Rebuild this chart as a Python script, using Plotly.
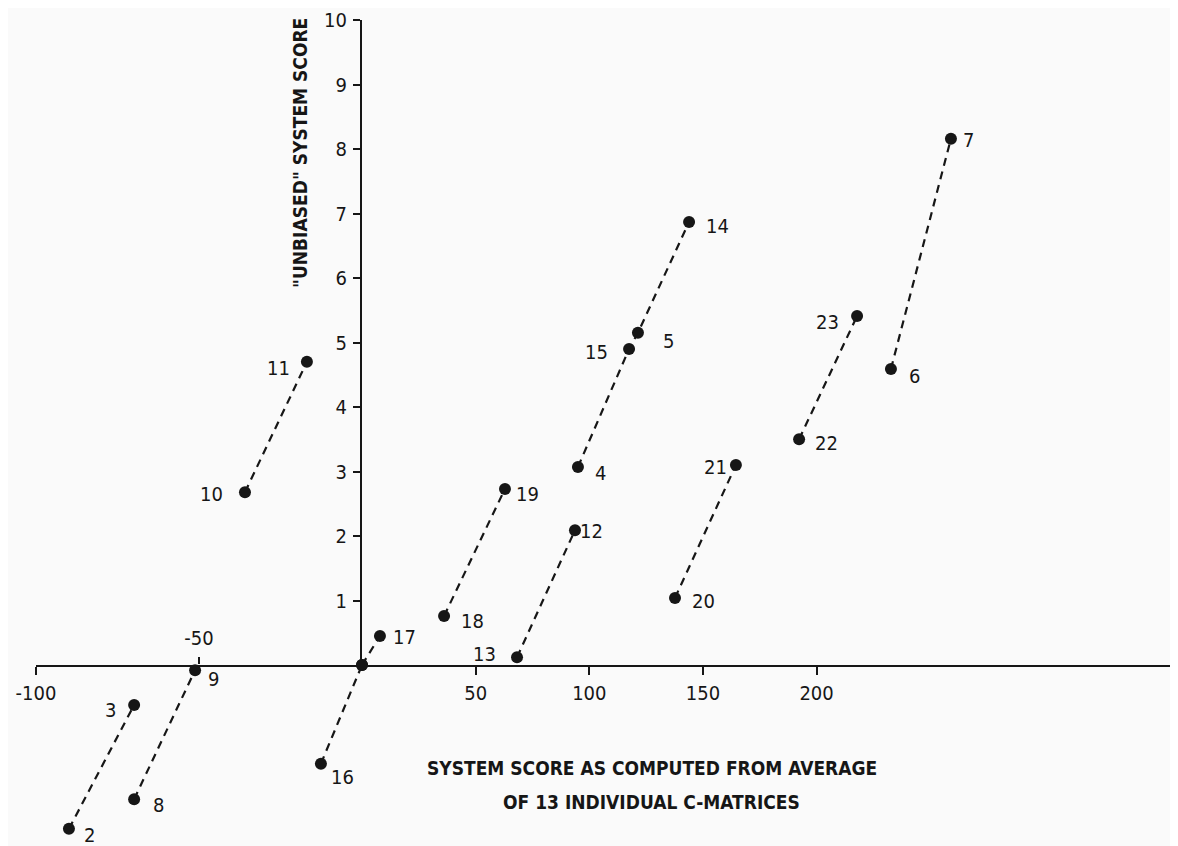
import plotly.graph_objects as go

# ---------------- data ----------------
point_ids = [1, 2, 3, 4, 5, 6, 7, 8, 9, 10, 11, 12,
             13, 14, 15, 16, 17, 18, 19, 20, 21, 22, 23]
x_vals = [0.0, -89.9, -69.9, 95.0, 121.4, 232.7, 259.1, -69.9, -51.2, -35.9, -16.9, 93.7,
          68.2, 143.9, 117.5, -12.6, 7.9, 36.1, 62.9, 137.7, 164.5, 192.3, 217.8]
y_vals = [0.0, -2.54, -0.62, 3.07, 5.15, 4.59, 8.16, -2.08, -0.08, 2.68, 4.70, 2.09,
          0.12, 6.87, 4.90, -1.53, 0.45, 0.76, 2.73, 1.04, 3.10, 3.50, 5.41]
point_labels = ["", "2", "3", "4", "5", "6", "7", "8", "9", "10", "11", "12",
                "13", "14", "15", "16", "17", "18", "19", "20", "21", "22", "23"]

# dashed connections between points (by id)
groups = [[2, 3], [8, 9], [16, 1], [10, 11], [1, 17], [18, 19], [13, 12],
          [4, 15, 5, 14], [20, 21], [22, 23], [6, 7]]

x_tick_neg = [-100]
x_tick_neg_up = [-50]
x_tick_pos = [50, 100, 150, 200]
y_ticks = [1, 2, 3, 4, 5, 6, 7, 8, 9, 10]

y_title = '"UNBIASED" SYSTEM SCORE'
x_title_1 = "SYSTEM SCORE AS COMPUTED FROM AVERAGE"
x_title_2 = "OF 13 INDIVIDUAL C-MATRICES"

# ---------------- styling / layout geometry ----------------
BODY = 8                      # browser body margin
W, H = 1178 - BODY, 846 - BODY
L, R, T, B = 36 - BODY, 2, 20 - BODY, 6
PW, PH = W - L - R, H - T - B
X0_PX = 362 - BODY            # pixel of x = 0 (figure coords)
Y0_PX = 665 - BODY            # pixel of y = 0 (figure coords)
NEG_PX_PER_UNIT = 3.26
POS_PX_PER_UNIT = 2.273
Y_PX_PER_UNIT = 64.5

dL = (X0_PX - L) / PW
p0 = (H - B - Y0_PX) / PH
x_neg_range = [-(X0_PX - L) / NEG_PX_PER_UNIT, 0]
x_pos_range = [0, (W - R - X0_PX) / POS_PX_PER_UNIT]
y_top_range = [0, (Y0_PX - T) / Y_PX_PER_UNIT]
y_bot_range = [-(H - B - Y0_PX) / Y_PX_PER_UNIT, 0]

INK = "#161616"
FONT = "DejaVu Sans Condensed, Liberation Sans Narrow, DejaVu Sans, sans-serif"
tickfont = dict(family=FONT, size=20, color=INK)
titlefont = dict(family=FONT, size=19, color=INK, weight="bold")

label_offsets = {  # pixel offsets of the number labels (dx right, dy down)
    2: (21, 6), 3: (-24, 5), 4: (23, 6), 5: (31, 8), 6: (24, 7), 7: (18, 1),
    8: (24, 6), 9: (18, 9), 10: (-33, 2), 11: (-28, 6), 12: (17, 1), 13: (-33, -3),
    14: (28, 4), 15: (-33, 3), 16: (22, 13), 17: (25, 1), 18: (28, 5), 19: (23, 5),
    20: (29, 3), 21: (-20, 2), 22: (27, 4), 23: (-30, 6),
}

lookup = {pid: (x, y, lab) for pid, x, y, lab in zip(point_ids, x_vals, y_vals, point_labels)}


def axes_for(xs, ys):
    xa = "x" if all(v <= 0 for v in xs) else "x2"
    ya = "y" if all(v >= 0 for v in ys) else "y2"
    return xa, ya


fig = go.Figure()
for g in groups:
    xs = [lookup[i][0] for i in g]
    ys = [lookup[i][1] for i in g]
    xa, ya = axes_for(xs, ys)
    fig.add_trace(go.Scatter(
        x=xs, y=ys, xaxis=xa, yaxis=ya, mode="lines+markers",
        line=dict(color=INK, width=2.2, dash="8px,6px"),
        marker=dict(color=INK, size=12),
        showlegend=False, hoverinfo="skip", cliponaxis=False,
    ))
# empty trace so the upward "-50" tick axis gets drawn
fig.add_trace(go.Scatter(x=[], y=[], xaxis="x3", yaxis="y2", showlegend=False, hoverinfo="skip"))

annotations = []
for pid, x, y, lab in zip(point_ids, x_vals, y_vals, point_labels):
    if not lab:
        continue
    xa, ya = axes_for([x], [y])
    dx, dy = label_offsets[pid]
    annotations.append(dict(
        x=x, y=y, xref=xa, yref=ya, text=lab, showarrow=False,
        xanchor="center", yanchor="middle",
        xshift=dx, yshift=-dy, font=tickfont,
    ))


def paper_x(px_screen):
    return (px_screen - BODY - L) / PW


def paper_y(py_screen):
    return 1 - (py_screen - BODY - T) / PH


annotations.append(dict(
    x=paper_x(300), y=paper_y(153), xref="paper", yref="paper",
    xanchor="center", yanchor="middle",
    text=y_title, textangle=-90, showarrow=False, font=titlefont,
))
annotations.append(dict(
    x=paper_x(652), y=paper_y(768), xref="paper", yref="paper",
    xanchor="center", yanchor="middle",
    text=x_title_1, showarrow=False, font=titlefont,
))
annotations.append(dict(
    x=paper_x(651), y=paper_y(802), xref="paper", yref="paper",
    xanchor="center", yanchor="middle",
    text=x_title_2, showarrow=False, font=titlefont,
))

axis_common = dict(showgrid=False, zeroline=False, automargin=False,
                   linecolor=INK, linewidth=2, tickcolor=INK, tickwidth=2,
                   tickfont=tickfont, fixedrange=True)

fig.update_layout(
    width=W, height=H, autosize=False,
    template="none",
    paper_bgcolor="#fafafa", plot_bgcolor="rgba(0,0,0,0)",
    margin=dict(l=L, r=R, t=T, b=B, pad=0),
    showlegend=False,
    annotations=annotations,
    xaxis=dict(domain=[0, dL], range=x_neg_range, anchor="y", showline=True,
               tickmode="array", tickvals=x_tick_neg, ticktext=[str(v) for v in x_tick_neg],
               ticks="outside", ticklen=8, ticklabelstandoff=1, **axis_common),
    xaxis2=dict(domain=[dL, 1], range=x_pos_range, anchor="y", showline=True,
                tickmode="array", tickvals=x_tick_pos, ticktext=[str(v) for v in x_tick_pos],
                ticks="outside", ticklen=8, ticklabelstandoff=1, **axis_common),
    xaxis3=dict(overlaying="x", range=x_neg_range, anchor="y2", side="top",
                showline=False, tickmode="array", tickvals=x_tick_neg_up,
                ticktext=[str(v) for v in x_tick_neg_up],
                ticks="outside", ticklen=7, ticklabelstandoff=4, **axis_common),
    yaxis=dict(domain=[p0, 1], range=y_top_range, anchor="x2", showline=True, side="left",
               tickmode="array", tickvals=y_ticks, ticktext=[str(v) for v in y_ticks],
               ticks="outside", ticklen=7, ticklabelstandoff=2, **axis_common),
    yaxis2=dict(domain=[0, p0], range=y_bot_range, anchor="x", visible=False,
                showgrid=False, zeroline=False, fixedrange=True),
)

fig.write_html("out.html")
